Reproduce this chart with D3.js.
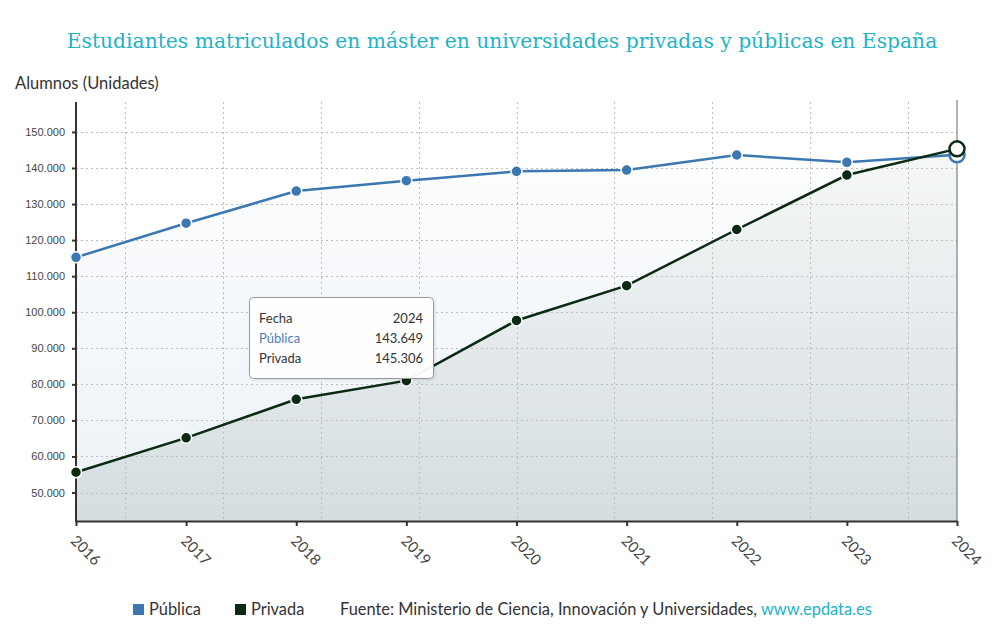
<!DOCTYPE html>
<html>
<head>
<meta charset="utf-8">
<script src="https://cdn.jsdelivr.net/npm/d3@7"></script>
<style>
  body { margin: 0; background: #fff; }
  svg { display: block; }
  .tick text { fill: #444; }
</style>
</head>
<body>
<svg id="chart" width="1000" height="635"></svg>
<script>
// Data
const years = ['2016', '2017', '2018', '2019', '2020', '2021', '2022', '2023', '2024'];
const publica = [115230, 124690, 133590, 136480, 139070, 139430, 143600, 141570, 143649];
const privada = [55620, 65160, 75840, 81020, 97710, 107360, 122940, 138040, 145306];
const yTicks = [50000, 60000, 70000, 80000, 90000, 100000, 110000, 120000, 130000, 140000, 150000];

const series = [
  { name: 'Pública', values: publica, colour: '#3b78b1' },
  { name: 'Privada', values: privada, colour: '#0b2a12' }
];

const svg = d3.select('#chart');
const margin = { top: 102, right: 43, bottom: 114, left: 76 };
const width = +svg.attr('width');
const height = +svg.attr('height');
const innerW = width - margin.left - margin.right;
const innerH = height - margin.top - margin.bottom;

const es = d3.formatLocale({ decimal: ',', thousands: '.', grouping: [3], currency: ['', '€'] });
const fmt = es.format(',d');

const x = d3.scalePoint().domain(years).range([0, innerW]);
const xBand = d3.scaleBand().domain(years).range([0, innerW]);
const y = d3.scaleLinear().domain([42100, 158300]).range([innerH, 0]);

// Gradients for the areas
const defs = svg.append('defs');
const gradient = (id, colour, a0, a1) => {
  const g = defs.append('linearGradient')
    .attr('id', id)
    .attr('gradientUnits', 'userSpaceOnUse')
    .attr('x1', 0).attr('y1', 0).attr('x2', 0).attr('y2', innerH);
  g.append('stop').attr('offset', 0).attr('stop-color', colour).attr('stop-opacity', a0);
  g.append('stop').attr('offset', 1).attr('stop-color', colour).attr('stop-opacity', a1);
};
gradient('grad-pub', '#3a77b0', 0.0, 0.1);
gradient('grad-priv', '#1a3a2a', 0.02, 0.11);

const shadow = defs.append('filter').attr('id', 'tip-shadow')
  .attr('x', '-10%').attr('y', '-10%').attr('width', '130%').attr('height', '140%');
shadow.append('feDropShadow')
  .attr('dx', 1).attr('dy', 1).attr('stdDeviation', 1.5)
  .attr('flood-color', '#000').attr('flood-opacity', 0.12);

// Title (font size fitted to the width of the original title)
const title = svg.append('text')
  .attr('x', 502)
  .attr('y', 48)
  .attr('text-anchor', 'middle')
  .attr('font-family', '"DejaVu Serif", serif')
  .attr('font-size', 22)
  .attr('fill', '#22b3c6')
  .text('Estudiantes matriculados en máster en universidades privadas y públicas en España');
const titleW = title.node().getComputedTextLength();
if (titleW > 871) title.attr('font-size', 22 * 871 / titleW);

// Y axis title
svg.append('text')
  .attr('x', 15)
  .attr('y', 89)
  .attr('font-family', 'Lato, sans-serif')
  .attr('font-size', 16.5)
  .attr('fill', '#333')
  .text('Alumnos (Unidades)');

const g = svg.append('g').attr('transform', `translate(${margin.left},${margin.top})`);

// Areas
const area = vals => d3.area()
  .x((d, i) => x(years[i]))
  .y0(innerH)
  .y1(d => y(d))(vals);

g.append('path').attr('d', area(publica)).attr('fill', 'url(#grad-pub)');
g.append('path').attr('d', area(privada)).attr('fill', 'url(#grad-priv)');

// Grid
const grid = g.append('g')
  .attr('stroke', '#bdbdbd')
  .attr('stroke-width', 1)
  .attr('stroke-dasharray', '2,3')
  .attr('fill', 'none');
grid.selectAll('.hgrid').data(yTicks).enter().append('line')
  .attr('class', 'hgrid')
  .attr('x1', 0).attr('x2', innerW)
  .attr('y1', d => Math.round(y(d)) + 0.5).attr('y2', d => Math.round(y(d)) + 0.5);
grid.selectAll('.vgrid').data(years).enter().append('line')
  .attr('class', 'vgrid')
  .attr('x1', d => Math.round(xBand(d) + xBand.bandwidth() / 2) + 0.5)
  .attr('x2', d => Math.round(xBand(d) + xBand.bandwidth() / 2) + 0.5)
  .attr('y1', 0).attr('y2', innerH);

// Crosshair at hovered year
g.append('line')
  .attr('x1', x('2024')).attr('x2', x('2024'))
  .attr('y1', -2).attr('y2', innerH)
  .attr('stroke', '#666').attr('stroke-width', 1);

// Axes
const yAxis = g.append('g')
  .call(d3.axisLeft(y).tickValues(yTicks).tickFormat(fmt).tickSize(4).tickPadding(7));
yAxis.select('.domain').remove();
yAxis.selectAll('.tick line').attr('stroke', '#333').attr('stroke-width', 2);
yAxis.selectAll('.tick text')
  .attr('font-family', '"Liberation Sans", Arial, sans-serif')
  .attr('font-size', 11)
  .attr('fill', '#444');

g.append('line')
  .attr('x1', 0).attr('x2', 0).attr('y1', 0).attr('y2', innerH + 1)
  .attr('stroke', '#333').attr('stroke-width', 2);

const xAxis = g.append('g')
  .attr('transform', `translate(0,${innerH})`)
  .call(d3.axisBottom(x).tickSize(5).tickSizeOuter(0));
xAxis.select('.domain').attr('stroke', '#333').attr('stroke-width', 2);
xAxis.selectAll('.tick line').attr('stroke', '#333').attr('stroke-width', 2);
xAxis.selectAll('.tick text')
  .attr('font-family', 'Lato, sans-serif')
  .attr('font-size', 15)
  .attr('fill', '#555')
  .attr('text-anchor', 'start')
  .attr('transform', 'translate(-3,17) rotate(45)')
  .attr('dy', '0.35em')
  .attr('y', 0);

// Lines and markers
const line = d3.line()
  .x((d, i) => x(years[i]))
  .y(d => y(d));

series.forEach(s => {
  g.append('path')
    .attr('d', line(s.values))
    .attr('fill', 'none')
    .attr('stroke', s.colour)
    .attr('stroke-width', 2.5);
});

series.forEach(s => {
  const last = s.values.length - 1;
  g.selectAll(null).data(s.values.slice(0, last)).enter().append('circle')
    .attr('cx', (d, i) => x(years[i]))
    .attr('cy', d => y(d))
    .attr('r', 5.5)
    .attr('fill', s.colour)
    .attr('stroke', '#fff')
    .attr('stroke-width', 1.5);
});

// Hovered markers
series.forEach(s => {
  const last = s.values.length - 1;
  g.append('circle')
    .attr('cx', x(years[last]))
    .attr('cy', y(s.values[last]))
    .attr('r', 7.5)
    .attr('fill', '#fff')
    .attr('stroke', s.colour)
    .attr('stroke-width', 2.5);
});

// Tooltip
const tip = svg.append('g').attr('transform', 'translate(249,297)');
tip.append('rect')
  .attr('x', 0.5).attr('y', 0.5)
  .attr('width', 184).attr('height', 81)
  .attr('rx', 4)
  .attr('fill', '#fff')
  .attr('fill-opacity', 0.95)
  .attr('stroke', '#999')
  .attr('filter', 'url(#tip-shadow)');
const rows = [
  { label: 'Fecha', value: years[years.length - 1], colour: '#333' },
  { label: 'Pública', value: fmt(publica[publica.length - 1]), colour: '#4a7db4' },
  { label: 'Privada', value: fmt(privada[privada.length - 1]), colour: '#333' }
];
rows.forEach((r, i) => {
  tip.append('text')
    .attr('x', 10).attr('y', 26 + i * 20)
    .attr('font-family', 'Lato, sans-serif').attr('font-size', 13)
    .attr('fill', r.colour)
    .text(r.label);
  tip.append('text')
    .attr('x', 174).attr('y', 26 + i * 20)
    .attr('text-anchor', 'end')
    .attr('font-family', 'Lato, sans-serif').attr('font-size', 13)
    .attr('fill', '#333')
    .text(r.value);
});

// Legend and source
const legend = svg.append('g').attr('font-family', 'Lato, sans-serif').attr('font-size', 16.4);
const legendItems = [
  { name: 'Pública', colour: '#3b78b1', x: 133 },
  { name: 'Privada', colour: '#0b2a12', x: 235 }
];
legendItems.forEach(l => {
  legend.append('rect').attr('x', l.x).attr('y', 604).attr('width', 11).attr('height', 11).attr('fill', l.colour);
  legend.append('text').attr('x', l.x + 16).attr('y', 615).attr('fill', '#333').text(l.name);
});
const source = legend.append('text').attr('x', 340).attr('y', 615).attr('fill', '#333');
source.append('tspan').text('Fuente: Ministerio de Ciencia, Innovación y Universidades, ');
source.append('tspan').attr('fill', '#22b3c6').text('www.epdata.es');
</script>
</body>
</html>
